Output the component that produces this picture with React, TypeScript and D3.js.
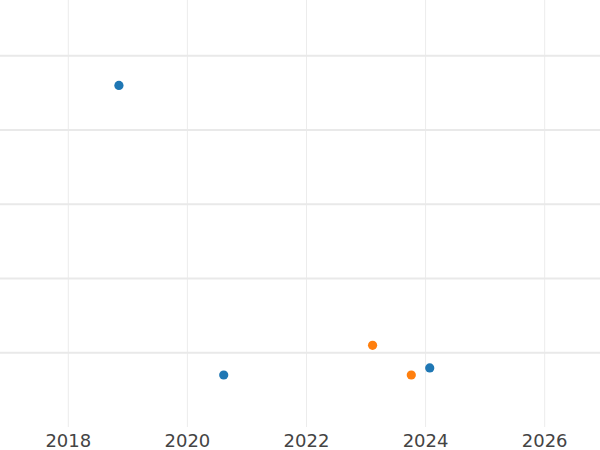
import React from "react";
import * as d3 from "d3";

const xTicks = [2018, 2020, 2022, 2024, 2026];
const yGrid = [1, 2, 3, 4, 5];
const blueX = [2018.85, 2020.61, 2024.07];
const blueY = [4.6, 0.7, 0.795];
const orangeX = [2023.11, 2023.76];
const orangeY = [1.1, 0.7];
const seriesColors = ["#1f77b4", "#ff7f0e"];

const W = 600;
const H = 450;
const plotBottom = 427;

export default function App() {
  const x = d3.scaleLinear().domain([2016.853, 2026.929]).range([0, W]);
  const y = d3.scaleLinear().domain([0, 5.75]).range([plotBottom, 0]);
  const series = [
    { xs: blueX, ys: blueY, color: seriesColors[0] },
    { xs: orangeX, ys: orangeY, color: seriesColors[1] },
  ];
  return (
    <svg width={W} height={H} style={{ position: "absolute", left: 0, top: 0, background: "#fff" }}>
      {xTicks.map((t) => (
        <line key={"v" + t} x1={x(t)} x2={x(t)} y1={0} y2={plotBottom} stroke="#ececec" strokeWidth={1} />
      ))}
      {yGrid.map((g) => (
        <line key={"h" + g} x1={0} x2={W} y1={y(g)} y2={y(g)} stroke="#e9e9e9" strokeWidth={2} />
      ))}
      {series.map((s, si) =>
        s.xs.map((xv, i) => (
          <circle key={si + "-" + i} cx={x(xv)} cy={y(s.ys[i])} r={4.6} fill={s.color} />
        ))
      )}
      {xTicks.map((t) => (
        <text
          key={"t" + t}
          x={x(t)}
          y={447}
          textAnchor="middle"
          fontFamily="DejaVu Sans"
          fontSize={18}
          fill="#444"
        >
          {t}
        </text>
      ))}
    </svg>
  );
}
